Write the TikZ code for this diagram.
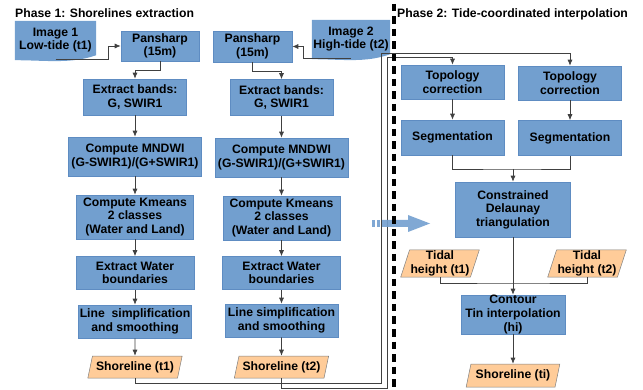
\documentclass[tikz,border=0pt]{standalone}
\usepackage{fontspec}
\setmainfont{Liberation Sans}
\usepackage{tikz}
\usetikzlibrary{arrows.meta,%
                shapes.geometric,%
                backgrounds}
\definecolor{procblue}{HTML}{729FCF}
\definecolor{procedge}{HTML}{5E8CC2}
\definecolor{ioorange}{HTML}{FFCC99}

\begin{document}
\begin{tikzpicture}
  [x=1pt,y=-1pt,
   every node/.style={font=\bfseries\fontsize{12.2}{13.6}\selectfont,align=center,inner sep=1pt},
   proc/.style={rectangle,draw=procedge,fill=procblue,line width=.6pt},
   iobox/.style={trapezium,trapezium left angle=72,trapezium right angle=108,trapezium stretches=true,draw=black!50,fill=ioorange,line width=.5pt},
   conn/.style={draw=black!75,line width=.7pt},
   arr/.style={conn,-{Latex[length=6pt,width=5pt]}}]
  \useasboundingbox (0,0) rectangle (643,390);
  \node (lbl1) [anchor=west] at (14,13) {Phase 1: Shorelines extraction};
  \node (lbl2) [anchor=west] at (396,14) {Phase 2: Tide-coordinated interpolation};
  % phase 1, low tide
  \node (img1) [minimum width=81pt,minimum height=38pt] at (55.5,40) {Image 1\\Low-tide (t1)};
  \node (pan1) [proc,minimum width=78pt,minimum height=30pt] at (160,46) {Pansharp\\(15m)};
  \node (bnd1) [proc,minimum width=103pt,minimum height=36pt] at (135,97) {Extract bands:\\G, SWIR1};
  \node (mnd1) [proc,minimum width=133pt,minimum height=39pt] at (135,156.5) {Compute MNDWI\\(G-SWIR1)/(G+SWIR1)};
  \node (km1) [proc,minimum width=117pt,minimum height=44pt] at (135,217) {Compute Kmeans\\2 classes\\(Water and Land)};
  \node (wat1) [proc,minimum width=118pt,minimum height=33pt] at (135,273) {Extract Water\\boundaries};
  \node (smo1) [proc,minimum width=113pt,minimum height=33pt] at (135,321.5) {Line~ simplification\\and smoothing};
  \node (shl1) [iobox,minimum width=95pt,minimum height=22pt] at (135,367) {Shoreline (t1)};
  % phase 1, high tide
  \node (img2) [minimum width=78pt,minimum height=38pt] at (351,39) {Image 2\\High-tide (t2)};
  \node (pan2) [proc,minimum width=79pt,minimum height=31pt] at (252.5,46.5) {Pansharp\\(15m)};
  \node (bnd2) [proc,minimum width=103pt,minimum height=36pt] at (281.5,97.5) {Extract bands:\\G, SWIR1};
  \node (mnd2) [proc,minimum width=133pt,minimum height=39pt] at (281.5,157.5) {Compute MNDWI\\(G-SWIR1)/(G+SWIR1)};
  \node (km2) [proc,minimum width=117pt,minimum height=44pt] at (281.5,218) {Compute Kmeans\\2 classes\\(Water and Land)};
  \node (wat2) [proc,minimum width=118pt,minimum height=33pt] at (281.5,273) {Extract Water\\boundaries};
  \node (smo2) [proc,minimum width=113pt,minimum height=33pt] at (281.5,320.5) {Line simplification\\and smoothing};
  \node (shl2) [iobox,minimum width=95pt,minimum height=22pt] at (281.5,367) {Shoreline (t2)};
  % phase 2
  \node (top1) [proc,minimum width=103pt,minimum height=34pt] at (452.5,82) {Topology\\correction};
  \node (top2) [proc,minimum width=103pt,minimum height=34pt] at (570,83) {Topology\\correction};
  \node (seg1) [proc,minimum width=103pt,minimum height=35pt] at (452.5,137.5) {Segmentation};
  \node (seg2) [proc,minimum width=103pt,minimum height=35pt] at (570,138) {Segmentation};
  \node (tri) [proc,minimum width=115pt,minimum height=55pt] at (513,209.5) {Constrained\\Delaunay\\triangulation};
  \node (tid1) [iobox,minimum width=70pt,minimum height=25pt] at (440,263.5) {Tidal\\height (t1)};
  \node (tid2) [iobox,minimum width=70pt,minimum height=25pt] at (587,263.5) {Tidal\\height (t2)};
  \node (tin) [proc,minimum width=104pt,minimum height=39pt,inner ysep=0pt] at (513,314.5) {Contour\\Tin interpolation\\(hi)};
  \node (shl3) [iobox,minimum width=94pt,minimum height=23pt] at (513,375.5) {Shoreline (ti)};
  % document shapes
  \begin{scope}[on background layer]
    \fill[procblue] (img1.north west) -- (img1.north east) -- ([yshift=4pt]img1.south east)
      .. controls +(-25pt,-9pt) and +(30pt,0pt) .. ([yshift=-1pt]img1.south west) -- cycle;
    \fill[procblue] (img2.north west) -- (img2.north east) -- ([yshift=4pt]img2.south east)
      .. controls +(-25pt,-9pt) and +(30pt,0pt) .. ([yshift=-1pt]img2.south west) -- cycle;
  \end{scope}
  % connectors
  \draw[arr] (img1.south) -- ++(52.5,0) |- (pan1.west);
  \draw[arr] (pan1.south) -- ++(0,9) -| (bnd1.north);
  \draw[arr] (img2.south) -- ++(-48,0) |- (pan2.east);
  \draw[arr] (pan2.south) -- ++(0,9) -| (bnd2.north);
  \foreach \from/\to in {bnd1/mnd1,mnd1/km1,km1/wat1,wat1/smo1,smo1/shl1,
                         bnd2/mnd2,mnd2/km2,km2/wat2,wat2/smo2,smo2/shl2,
                         top1/seg1,top2/seg2,tri/tin,tin/shl3}
    \draw[arr] (\from) -- (\to);
  \coordinate (bus1) at (381,53);
  \coordinate (bus2) at (387,57);
  \draw[arr] (shl1.south) -- ++(0,5) -| (bus1) -| (top2.north);
  \draw[arr] (shl2.south) -- ++(0,10) -| (bus2) -| (top1.north);
  \coordinate (jn1) at (513,169);
  \draw[conn] (seg1.south) |- (jn1) -| (seg2.south);
  \draw[arr] (jn1) -- (tri.north);
  \coordinate (jn2) at (513,283);
  \draw[conn] (tid1.south) |- (jn2) -| (tid2.south);
  % phase arrow
  \begin{scope}[fill=procblue,fill opacity=.9]
    \fill (372,220) rectangle (375,227);
    \fill (377,220) rectangle (380,227);
    \fill (382,220) -- (408,220) -- (408,215) -- (430,223.5) -- (408,232) -- (408,227) -- (382,227) -- cycle;
  \end{scope}
  % separator
  \draw[line width=3.3pt,dash pattern=on 7.5pt off 5pt] (394,4) -- (394,390);
\end{tikzpicture}
\end{document}
